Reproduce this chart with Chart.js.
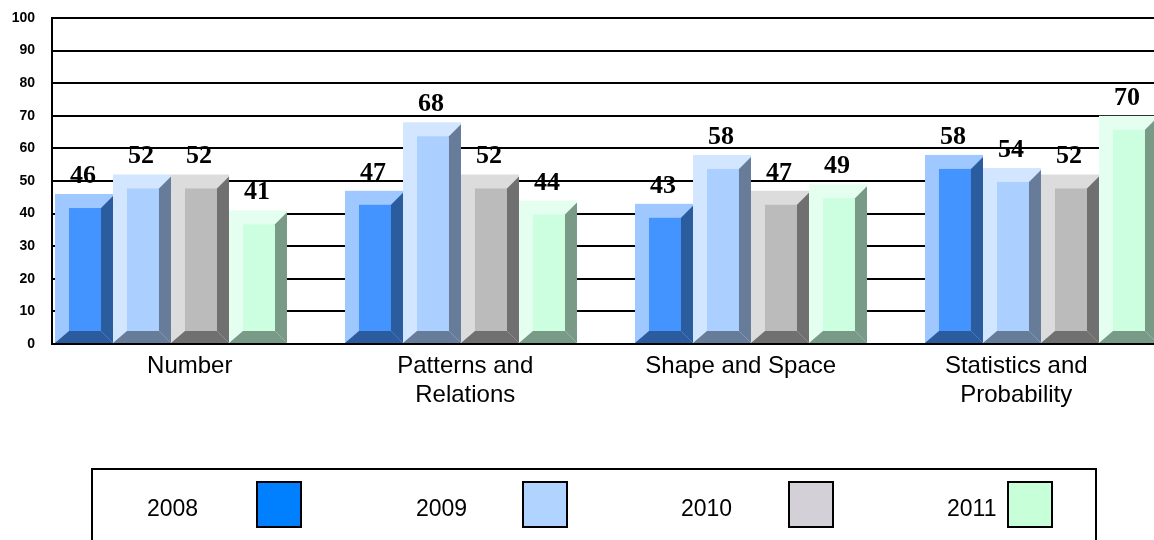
<!DOCTYPE html>
<html>
<head>
<meta charset="utf-8">
<script src="https://cdn.jsdelivr.net/npm/chart.js@4"></script>
<style>
  html, body { margin: 0; padding: 0; background: #fff; overflow: hidden; }
  #wrap { width: 1154px; height: 540px; }
</style>
</head>
<body>
<div id="wrap"><canvas id="chart" width="1154" height="540"></canvas></div>
<script>
// Data
const categories = ['Number', ['Patterns and', 'Relations'], 'Shape and Space', ['Statistics and', 'Probability']];
const years = ['2008', '2009', '2010', '2011'];
const s2008 = [46, 47, 43, 58];
const s2009 = [52, 68, 58, 54];
const s2010 = [52, 52, 47, 52];
const s2011 = [41, 44, 49, 70];
const yTicks = [0, 10, 20, 30, 40, 50, 60, 70, 80, 90, 100];
const groupPos = [0, 1, 2, 3];

// Bevel colours per year: light edge, face, shaded side
const bevelColors = [
    { light: '#9ec8ff', mid: '#4494ff', dark: '#2a5c9e' },
    { light: '#d2e6ff', mid: '#abcfff', dark: '#677c99' },
    { light: '#dcdcdc', mid: '#bbbbbb', dark: '#707070' },
    { light: '#e4fff0', mid: '#ccffe0', dark: '#7a9a88' }
];
const legendColors = ['#0080ff', '#b0d4ff', '#d4d0d8', '#c6ffd8'];

const seriesValues = [s2008, s2009, s2010, s2011];

// x range of the bar axis so groups sit where the picture has them
const X_MIN = -0.4103;
const X_MAX = 3.3897;

function drawBevelBar(ctx, x0, x1, top, base, c) {
    const L = 14, T = 14, R = 12, B = 12;
    ctx.fillStyle = c.light;
    ctx.fillRect(x0, top, x1 - x0, base - top);
    ctx.fillStyle = c.mid;
    ctx.fillRect(x0 + L, top + T, (x1 - R) - (x0 + L), (base - B) - (top + T));
    ctx.fillStyle = c.dark;
    // right side
    ctx.beginPath();
    ctx.moveTo(x1 - R, top + T);
    ctx.lineTo(x1, top + T - R);
    ctx.lineTo(x1, base);
    ctx.lineTo(x1 - R, base - B);
    ctx.closePath();
    ctx.fill();
    // bottom
    ctx.beginPath();
    ctx.moveTo(x0, base);
    ctx.lineTo(x0 + L, base - B);
    ctx.lineTo(x1 - R, base - B);
    ctx.lineTo(x1, base);
    ctx.closePath();
    ctx.fill();
}

const bevelBars = {
    id: 'bevelBars',
    beforeDatasetDraw(chart, args) {
        const ctx = chart.ctx;
        const meta = args.meta;
        const colors = bevelColors[args.index];
        ctx.save();
        meta.data.forEach((bar, i) => {
            const p = bar.getProps(['x', 'y', 'base', 'width'], true);
            const x0 = p.x - p.width / 2;
            const x1 = p.x + p.width / 2;
            drawBevelBar(ctx, x0, x1, p.y, p.base, colors);
            const value = chart.data.datasets[args.index].data[i].y;
            ctx.fillStyle = '#000';
            ctx.font = 'bold 26px "Liberation Serif", "Times New Roman", serif';
            ctx.textAlign = 'center';
            ctx.textBaseline = 'alphabetic';
            ctx.fillText(String(value), p.x - 1, p.y - 11);
        });
        ctx.restore();
        return false;
    }
};

const boxLegend = {
    id: 'boxLegend',
    afterDraw(chart) {
        const ctx = chart.ctx;
        const textX = [147, 416, 681, 947];
        const swatchX = [257, 523, 789, 1008];
        ctx.save();
        ctx.strokeStyle = '#000';
        ctx.lineWidth = 2;
        ctx.strokeRect(92, 469, 1004, 100);
        ctx.font = '23px "Liberation Sans", Arial, sans-serif';
        ctx.textAlign = 'left';
        ctx.textBaseline = 'middle';
        chart.data.datasets.forEach((ds, i) => {
            ctx.fillStyle = '#000';
            ctx.fillText(ds.label, textX[i], 510);
            ctx.fillStyle = legendColors[i];
            ctx.fillRect(swatchX[i], 482, 44, 45);
            ctx.strokeRect(swatchX[i], 482, 44, 45);
        });
        ctx.restore();
    }
};

const ctx = document.getElementById('chart').getContext('2d');
new Chart(ctx, {
    type: 'bar',
    data: {
        datasets: years.map((year, k) => ({
            label: year,
            data: seriesValues[k].map((v, i) => ({ x: groupPos[i], y: v })),
            backgroundColor: legendColors[k],
            xAxisID: 'x',
            yAxisID: 'y'
        }))
    },
    options: {
        responsive: false,
        animation: false,
        categoryPercentage: 0.8,
        barPercentage: 1,
        layout: { padding: { top: 18, left: 0, right: 0, bottom: 0 } },
        plugins: {
            legend: { display: false },
            tooltip: { enabled: false }
        },
        scales: {
            x: {
                type: 'linear',
                display: false,
                offset: false,
                bounds: 'data',
                min: X_MIN,
                max: X_MAX,
                afterBuildTicks: function(scale) {
                    scale.ticks = groupPos.map(v => ({ value: v }));
                    scale.min = X_MIN;
                    scale.max = X_MAX;
                }
            },
            xl: {
                type: 'category',
                labels: categories,
                position: 'bottom',
                offset: true,
                grid: { display: false, drawTicks: false },
                border: { display: true, color: '#000', width: 2 },
                ticks: {
                    color: '#000',
                    padding: 8,
                    maxRotation: 0,
                    autoSkip: false,
                    font: { family: '"Liberation Sans", Arial, sans-serif', size: 24, lineHeight: 1.2 }
                },
                afterFit: function(scale) { scale.height = 196; }
            },
            y: {
                min: 0,
                max: 100,
                afterBuildTicks: function(scale) {
                    scale.ticks = yTicks.map(v => ({ value: v }));
                },
                grid: { color: '#000', lineWidth: 2, drawTicks: false },
                border: { display: true, color: '#000', width: 2 },
                ticks: {
                    color: '#000',
                    padding: 17,
                    font: { family: '"Liberation Sans", Arial, sans-serif', size: 14, weight: 'bold' }
                },
                afterFit: function(scale) {
                    scale.width = 52;
                    scale.paddingTop = 0;
                    scale.paddingBottom = 0;
                }
            }
        }
    },
    plugins: [bevelBars, boxLegend]
});
</script>
</body>
</html>
